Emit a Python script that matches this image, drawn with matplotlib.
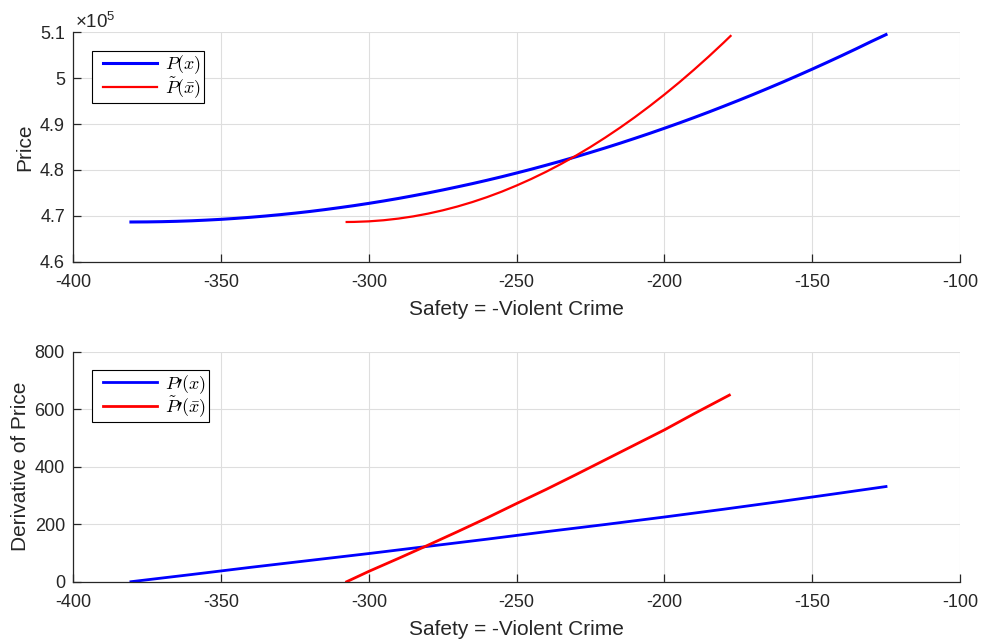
import matplotlib
matplotlib.use("Agg")
import matplotlib.pyplot as plt
from matplotlib.ticker import FuncFormatter
from matplotlib.font_manager import FontProperties
from matplotlib.legend_handler import HandlerLine2D
from matplotlib.lines import Line2D

# ---- data ----
x_price = [-380.5, -375, -370, -365, -360, -355, -350, -345, -340, -335, -330, -325,
           -320, -315, -310, -305, -300, -295, -290, -285, -280, -275, -270, -265,
           -260, -255, -250, -245, -240, -235, -230, -225, -220, -215, -210, -205,
           -200, -195, -190, -185, -180, -175, -170, -165, -160, -155, -150, -145,
           -140, -135, -130, -125]
price = [468650, 468670, 468720, 468800, 468910, 469060, 469230, 469440, 469680, 469950,
         470250, 470580, 470940, 471340, 471770, 472220, 472710, 473230, 473780, 474370,
         474980, 475630, 476310, 477010, 477750, 478520, 479330, 480160, 481030, 481920,
         482850, 483810, 484800, 485820, 486880, 487960, 489080, 490220, 491400, 492610,
         493860, 495130, 496430, 497770, 499130, 500530, 501960, 503420, 504910, 506430,
         507990, 509500]

x_price_bar = [-307.5, -305, -300, -295, -290, -285, -280, -275, -270, -265, -260, -255,
               -250, -245, -240, -235, -230, -225, -220, -215, -210, -205, -200, -195,
               -190, -185, -180, -177.6]
price_bar = [468650, 468670, 468790, 469030, 469390, 469870, 470470, 471190, 472030, 472990,
             474070, 475270, 476600, 478040, 479600, 481280, 483080, 485000, 487050, 489210,
             491490, 493900, 496420, 499060, 501830, 504710, 507710, 509200]

x_deriv = [-380.5, -360, -340, -320, -300, -280, -260, -240, -220, -200, -180, -160, -140, -125]
deriv = [0, 25, 50, 74, 98, 123, 148, 174, 199, 225, 252, 280, 309, 331]

x_deriv_bar = [-307.5, -300, -290, -280, -270, -260, -250, -240, -230, -220, -210, -200, -190, -178]
deriv_bar = [0, 36, 81, 127, 174, 222, 272, 321, 372, 424, 476, 528, 584, 649]

x_ticks = [-400, -350, -300, -250, -200, -150, -100]
price_ticks = [460000, 470000, 480000, 490000, 500000, 510000]
deriv_ticks = [0, 200, 400, 600, 800]

# ---- style ----
plt.rcParams['font.family'] = ['Liberation Sans', 'DejaVu Sans']
plt.rcParams['axes.unicode_minus'] = False
plt.rcParams['mathtext.fontset'] = 'custom'
plt.rcParams['mathtext.rm'] = 'Liberation Sans'
plt.rcParams['mathtext.it'] = 'Liberation Sans:italic'
TXT = '#262626'
GRID = '#dedede'

fig = plt.figure(figsize=(9.84, 6.42), dpi=100)
ax1 = fig.add_axes([0.0745, 0.5924, 0.901, 0.3573])
ax2 = fig.add_axes([0.0745, 0.0939, 0.901, 0.3583])

legend_font = FontProperties(family='DejaVu Serif', size=13, math_fontfamily='cm')


def style(ax, yticks, ylim):
    ax.set_xlim(-400, -100)
    ax.set_ylim(*ylim)
    ax.set_xticks(x_ticks)
    ax.set_yticks(yticks)
    ax.grid(True, color=GRID, linewidth=0.8)
    ax.set_axisbelow(True)
    for s in ('top', 'right'):
        ax.spines[s].set_visible(False)
    for s in ('left', 'bottom'):
        ax.spines[s].set_color(TXT)
        ax.spines[s].set_linewidth(0.9)
    ax.tick_params(direction='in', length=6, width=0.9, colors=TXT, labelsize=13)
    ax.tick_params(axis='x', pad=9)
    ax.tick_params(axis='y', pad=6)
    ax.set_xlabel('Safety = -Violent Crime', fontsize=15, color=TXT, labelpad=6)


def add_legend(ax, anchor_y):
    leg = ax.legend(loc='upper left', bbox_to_anchor=(0.0214, anchor_y), borderaxespad=0,
                    prop=legend_font, handlelength=3.45, handletextpad=0.42,
                    handler_map={Line2D: HandlerLine2D(xpad=0.45)},
                    fancybox=False, edgecolor='#000000', framealpha=1,
                    borderpad=0.15, labelspacing=-0.08)
    leg.get_frame().set_linewidth(0.8)
    return leg


# ---- price ----
ax1.plot(x_price, price, color='#0000ff', linewidth=2.2, label=r'$P(x)$')
ax1.plot(x_price_bar, price_bar, color='#ff0000', linewidth=1.6, label=r'$\tilde{P}(\bar{x})$')
style(ax1, price_ticks, (460000, 510000))
ax1.yaxis.set_major_formatter(FuncFormatter(lambda v, p: '%g' % (v / 1e5)))
ax1.set_ylabel('Price', fontsize=15, color=TXT, labelpad=4)
ax1.text(0.002, 1.0, r'$\times\mathregular{10^{5}}$', transform=ax1.transAxes,
         fontsize=13.5, color=TXT, ha='left', va='bottom')
add_legend(ax1, 0.9185)

# ---- derivative ----
ax2.plot(x_deriv, deriv, color='#0000ff', linewidth=2.0, label=r"$P\prime(x)$")
ax2.plot(x_deriv_bar, deriv_bar, color='#ff0000', linewidth=2.0, label=r"$\tilde{P}\prime(\bar{x})$")
style(ax2, deriv_ticks, (0, 800))
ax2.set_ylabel('Derivative of Price', fontsize=15, color=TXT, labelpad=3)
add_legend(ax2, 0.920)

fig.savefig('out.png', dpi=100)
